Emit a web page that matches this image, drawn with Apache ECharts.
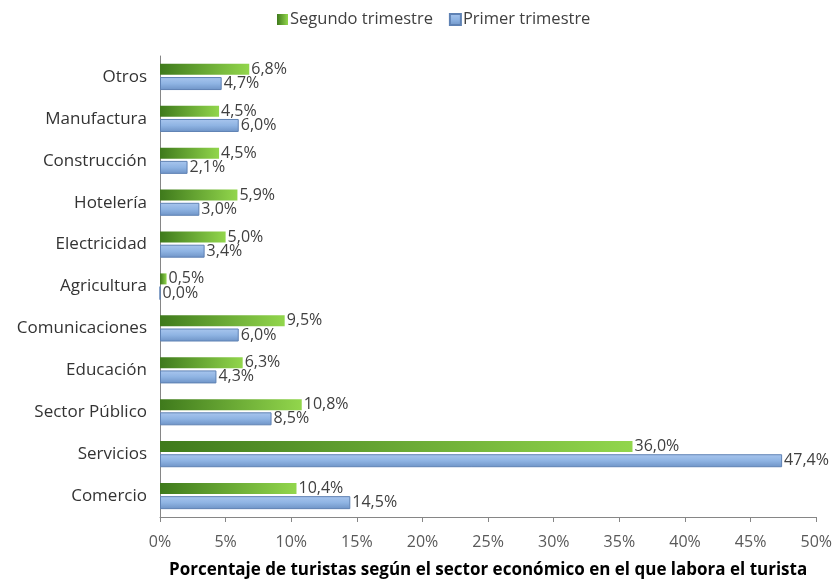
<!DOCTYPE html>
<html>
<head>
<meta charset="utf-8">
<script src="https://cdn.jsdelivr.net/npm/echarts@6/dist/echarts.min.js"></script>
<style>
  html, body { margin: 0; padding: 0; background: #fff; }
  #chart { width: 835px; height: 585px; }
</style>
</head>
<body>
<div id="chart"></div>
<script>
// categories listed top to bottom
var sectores = ['Otros', 'Manufactura', 'Construcción', 'Hotelería', 'Electricidad', 'Agricultura',
  'Comunicaciones', 'Educación', 'Sector Público', 'Servicios', 'Comercio']
var segundoTrimestre = [6.8, 4.5, 4.5, 5.9, 5.0, 0.5, 9.5, 6.3, 10.8, 36.0, 10.4]
var primerTrimestre = [4.7, 6.0, 2.1, 3.0, 3.4, 0.0, 6.0, 4.3, 8.5, 47.4, 14.5]
var xTicks = [0, 5, 10, 15, 20, 25, 30, 35, 40, 45, 50]

var fuente = '"Open Sans", Lato, sans-serif'

function pct (v) {
  return v.toFixed(1).replace('.', ',') + '%'
}

var myChart = echarts.init(document.getElementById('chart'))

var option = {
  animation: false,
  textStyle: { fontFamily: fuente },
  legend: {
    top: 6,
    left: 272,
    icon: 'rect',
    itemWidth: 11,
    itemHeight: 11,
    itemGap: 16,
    textStyle: { fontSize: 16.5, color: '#404040', fontFamily: fuente, padding: [0, 0, 0, -3] },
    data: ['Segundo trimestre', 'Primer trimestre']
  },
  grid: {
    left: 160,
    right: 18,
    top: 56,
    bottom: 68,
    containLabel: false
  },
  xAxis: {
    type: 'value',
    min: xTicks[0],
    max: xTicks[xTicks.length - 1],
    interval: 5,
    name: 'Porcentaje de turistas según el sector económico en el que labora el turista',
    nameLocation: 'middle',
    nameGap: 45,
    nameTextStyle: { fontSize: 17, fontWeight: 'bold', color: '#000', fontFamily: fuente },
    axisLine: { show: true, lineStyle: { color: '#868686' } },
    axisTick: { show: true, length: 5, lineStyle: { color: '#868686' } },
    axisLabel: { formatter: '{value}%', fontSize: 16, color: '#595959', margin: 17 },
    splitLine: { show: false }
  },
  yAxis: {
    type: 'category',
    inverse: true,
    data: sectores,
    axisLine: { show: true, lineStyle: { color: '#868686' } },
    axisTick: { show: false },
    axisLabel: { fontSize: 17, color: '#333', margin: 13 }
  },
  series: [
    {
      name: 'Segundo trimestre',
      type: 'bar',
      data: segundoTrimestre,
      barWidth: 11,
      barGap: '20%',
      itemStyle: {
        color: new echarts.graphic.LinearGradient(0, 0, 1, 0, [
          { offset: 0, color: '#3f7a1c' },
          { offset: 1, color: '#92d64c' }
        ])
      },
      label: {
        show: true,
        position: 'right',
        distance: 2,
        fontSize: 16,
        color: '#404040',
        formatter: function (p) { return pct(p.value) }
      }
    },
    {
      name: 'Primer trimestre',
      type: 'bar',
      data: primerTrimestre,
      barWidth: 13,
      itemStyle: {
        color: new echarts.graphic.LinearGradient(0, 0, 0, 1, [
          { offset: 0, color: '#a9c6ee' },
          { offset: 0.5, color: '#8fb4e3' },
          { offset: 1, color: '#6e93c6' }
        ]),
        borderColor: '#5f82b4',
        borderWidth: 1
      },
      label: {
        show: true,
        position: 'right',
        distance: 2,
        fontSize: 16,
        color: '#404040',
        formatter: function (p) { return pct(p.value) }
      }
    }
  ]
}
myChart.setOption(option)
</script>
</body>
</html>
